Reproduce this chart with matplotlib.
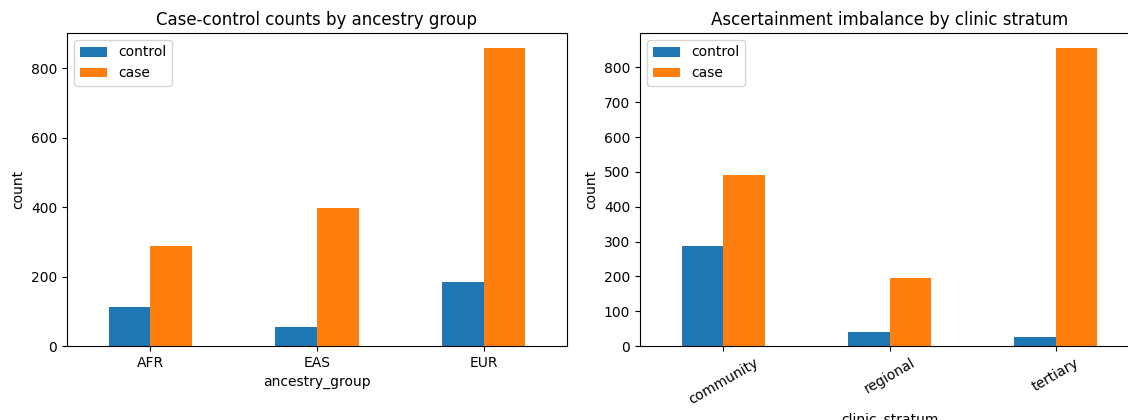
import matplotlib
matplotlib.use("Agg")
import matplotlib.pyplot as plt
import numpy as np

ancestry_groups = ["AFR", "EAS", "EUR"]
ancestry_control = [112, 55, 185]
ancestry_case = [287, 396, 858]

clinic_strata = ["community", "regional", "tertiary"]
clinic_control = [286, 41, 25]
clinic_case = [490, 196, 856]

series_names = ["control", "case"]
colors = ["#1f77b4", "#ff7f0e"]

fig = plt.figure(figsize=(11.28, 4.2), dpi=100)
W, H = 1128, 420
ax1 = fig.add_axes([67 / W, 74 / H, 500 / W, 313 / H])
ax2 = fig.add_axes([640 / W, 74 / H, 499 / W, 313 / H])


def grouped_bars(ax, cats, control, case, xlabel, title, rotation=0):
    x = np.arange(len(cats))
    width = 0.25
    ax.bar(x - width / 2, control, width, color=colors[0], label=series_names[0])
    ax.bar(x + width / 2, case, width, color=colors[1], label=series_names[1])
    ax.set_xlim(-0.5, len(cats) - 0.5)
    top = max(max(control), max(case))
    ax.set_ylim(0, top * 1.05)
    ax.set_xticks(x)
    if rotation:
        ax.set_xticklabels(cats, rotation=rotation, ha="center")
    else:
        ax.set_xticklabels(cats)
    ax.set_xlabel(xlabel)
    ax.set_ylabel("count")
    ax.set_title(title, fontsize=12)
    ax.legend(loc="upper left")


grouped_bars(ax1, ancestry_groups, ancestry_control, ancestry_case,
             "ancestry_group", "Case-control counts by ancestry group")
grouped_bars(ax2, clinic_strata, clinic_control, clinic_case,
             "clinic_stratum", "Ascertainment imbalance by clinic stratum", rotation=30)
ax2.yaxis.set_major_locator(matplotlib.ticker.MultipleLocator(100))

fig.savefig("out.png", dpi=100)
